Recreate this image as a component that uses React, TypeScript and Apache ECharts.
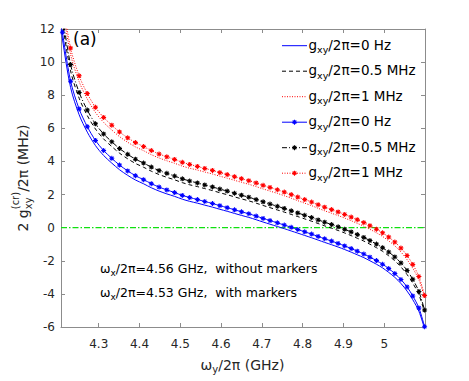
import React, { useEffect, useRef } from 'react';
import * as echarts from 'echarts';

const FONT = '"DejaVu Sans"';
const STAR_D =
  'M-1,-5L1,-5L1,5L-1,5Z M-5,-1L5,-1L5,1L-5,1Z M-2.79,-4.21L4.21,2.79L2.79,4.21L-4.21,-2.79Z M-2.79,4.21L-4.21,2.79L2.79,-4.21L4.21,-2.79Z';
echarts.graphic.registerShape('astar', echarts.graphic.extendPath(STAR_D, {}));

// ω_y/2π (GHz) of the marker points (ω_x/2π = 4.53 GHz)
const omegaYWith = [
  4.211, 4.231, 4.252, 4.272, 4.292, 4.312, 4.332, 4.351, 4.371, 4.39, 4.41, 4.429, 4.448,
  4.467, 4.486, 4.505, 4.523, 4.542, 4.56, 4.579, 4.597, 4.615, 4.633, 4.65, 4.668, 4.686,
  4.703, 4.72, 4.738, 4.755, 4.772, 4.788, 4.805, 4.822, 4.838, 4.854, 4.871, 4.887, 4.903,
  4.919, 4.934, 4.95, 4.965, 4.981, 4.996, 5.011, 5.026, 5.041, 5.056, 5.07, 5.085, 5.099,
];
// ω_y/2π (GHz) of the curves without markers (ω_x/2π = 4.56 GHz)
const omegaYWithout = [
  4.208, 4.211, 4.231, 4.252, 4.272, 4.292, 4.312, 4.332, 4.351, 4.371, 4.39, 4.41, 4.429,
  4.448, 4.467, 4.486, 4.505, 4.523, 4.542, 4.56, 4.579, 4.597, 4.615, 4.633, 4.65, 4.668,
  4.686, 4.703, 4.72, 4.738, 4.755, 4.772, 4.788, 4.805, 4.822, 4.838, 4.854, 4.871, 4.887,
  4.903, 4.919, 4.934, 4.95, 4.965, 4.981, 4.996, 5.011, 5.026, 5.041, 5.056, 5.07, 5.085,
  5.099,
];

// 2 g_xy^(cr)/2π (MHz), without markers
const g0Without = [
  12.3, 11.4, 8.47, 6.82, 5.77, 4.96, 4.36, 3.9, 3.5, 3.16, 2.88, 2.65, 2.41, 2.21, 2.04, 1.89,
  1.72, 1.59, 1.48, 1.36, 1.24, 1.11, 0.99, 0.86, 0.74, 0.62, 0.48, 0.34, 0.21, 0.07, -0.06,
  -0.2, -0.33, -0.47, -0.61, -0.75, -0.89, -1.03, -1.17, -1.32, -1.48, -1.64, -1.81, -2.0,
  -2.21, -2.43, -2.7, -3.0, -3.37, -3.83, -4.35, -5.05, -6.1,
];
const g05Without = [
  13.3, 12.4, 9.47, 7.82, 6.77, 5.96, 5.36, 4.9, 4.5, 4.16, 3.88, 3.65, 3.41, 3.21, 3.04, 2.89,
  2.72, 2.59, 2.48, 2.36, 2.24, 2.11, 1.99, 1.86, 1.74, 1.62, 1.48, 1.34, 1.21, 1.07, 0.94, 0.8,
  0.67, 0.53, 0.39, 0.25, 0.11, -0.03, -0.17, -0.32, -0.48, -0.64, -0.81, -1.0, -1.21, -1.43,
  -1.7, -2.0, -2.37, -2.83, -3.35, -4.05, -5.1,
];
const g1Without = [
  14.3, 13.4, 10.47, 8.82, 7.77, 6.96, 6.36, 5.9, 5.5, 5.16, 4.88, 4.65, 4.41, 4.21, 4.04, 3.89,
  3.72, 3.59, 3.48, 3.36, 3.24, 3.11, 2.99, 2.86, 2.74, 2.62, 2.48, 2.34, 2.21, 2.07, 1.93, 1.78,
  1.63, 1.48, 1.33, 1.17, 1.02, 0.87, 0.73, 0.58, 0.42, 0.26, 0.09, -0.1, -0.31, -0.53, -0.8,
  -1.1, -1.47, -1.93, -2.45, -3.15, -4.2,
];
// with markers
const g0With = [
  11.8, 8.85, 7.17, 6.1, 5.27, 4.66, 4.19, 3.78, 3.43, 3.14, 2.9, 2.66, 2.45, 2.28, 2.12, 1.95,
  1.82, 1.7, 1.58, 1.46, 1.33, 1.21, 1.08, 0.96, 0.84, 0.7, 0.56, 0.43, 0.29, 0.16, 0.02, -0.11,
  -0.25, -0.39, -0.53, -0.67, -0.81, -0.95, -1.1, -1.26, -1.42, -1.59, -1.78, -1.99, -2.21,
  -2.47, -2.77, -3.13, -3.58, -4.12, -4.85, -5.98,
];
const g05With = [
  12.8, 9.85, 8.17, 7.1, 6.27, 5.66, 5.19, 4.78, 4.43, 4.14, 3.9, 3.66, 3.45, 3.28, 3.12, 2.95,
  2.82, 2.7, 2.58, 2.46, 2.33, 2.21, 2.08, 1.96, 1.84, 1.7, 1.56, 1.43, 1.29, 1.16, 1.02, 0.89,
  0.75, 0.61, 0.47, 0.33, 0.19, 0.05, -0.1, -0.26, -0.42, -0.59, -0.78, -0.99, -1.21, -1.47,
  -1.77, -2.13, -2.58, -3.12, -3.85, -4.98,
];
const g1With = [
  13.8, 10.85, 9.17, 8.1, 7.27, 6.66, 6.19, 5.78, 5.43, 5.14, 4.9, 4.66, 4.45, 4.28, 4.12, 3.95,
  3.82, 3.7, 3.58, 3.46, 3.33, 3.21, 3.08, 2.96, 2.84, 2.7, 2.56, 2.43, 2.29, 2.15, 2.0, 1.85,
  1.7, 1.55, 1.39, 1.24, 1.09, 0.95, 0.8, 0.64, 0.48, 0.31, 0.12, -0.09, -0.31, -0.57, -0.87,
  -1.23, -1.68, -2.22, -2.95, -4.1,
];
// reference level (green dash-dot line)
const zeroLevel = 0;

const xTickValues = [4.3, 4.4, 4.5, 4.6, 4.7, 4.8, 4.9, 5.0];
const xTickLabels = ['4.3', '4.4', '4.5', '4.6', '4.7', '4.8', '4.9', '5'];
const X_MIN = 4.2075;
const X_MAX = 5.1;
const Y_MIN = -6;
const Y_MAX = 12;
const Y_STEP = 2;

const legendValues = ['0 Hz', '0.5 MHz', '1 MHz', '0 Hz', '0.5 MHz', '1 MHz'];
const noteLines = [
  { wx: '4.56', tail: ' GHz,  without markers' },
  { wx: '4.53', tail: ' GHz,  with markers' },
];

const AXIS_GRAY = '#8c8c8c';
const TEXT_DARK = '#262626';
const ZERO_GREEN = '#10e010';

const seriesStyles = [
  { color: '#0000ff', dash: 'solid' as any, marker: false, width: 1 },
  { color: '#000000', dash: [4, 3], marker: false, width: 1 },
  { color: '#ff0000', dash: [1, 1.5], marker: false, width: 1 },
  { color: '#0000ff', dash: 'solid' as any, marker: true, width: 1 },
  { color: '#000000', dash: [5, 2, 1, 2], marker: true, width: 1 },
  { color: '#ff0000', dash: [1, 1.5], marker: true, width: 1 },
];

let measureCtx: CanvasRenderingContext2D | null = null;
function measure(t: string, size: number): number {
  if (!measureCtx) measureCtx = document.createElement('canvas').getContext('2d');
  if (!measureCtx) return t.length * size * 0.6;
  measureCtx.font = `${size}px ${FONT}`;
  return measureCtx.measureText(t).width;
}

function txt(t: string, x: number, y: number, s: number, fill: string) {
  return {
    type: 'text',
    x,
    y,
    silent: true,
    style: {
      text: t,
      font: `${s}px ${FONT}`,
      fill,
      align: 'left',
      textAlign: 'left',
      verticalAlign: 'middle',
      textVerticalAlign: 'middle',
    },
  };
}

type Part = { t: string; s: number; dy?: number; sup?: { t: string; s: number; dy: number } };
function composite(parts: Part[], x0: number, y0: number, fill: string, align: 'left' | 'center') {
  const ws = parts.map((p) => Math.max(measure(p.t, p.s), p.sup ? measure(p.sup.t, p.sup.s) : 0));
  const total = ws.reduce((a, b) => a + b, 0);
  let x = align === 'center' ? x0 - total / 2 : x0;
  const out: any[] = [];
  parts.forEach((p, i) => {
    out.push(txt(p.t, x, y0 + (p.dy || 0), p.s, fill));
    if (p.sup) out.push(txt(p.sup.t, x, y0 + p.sup.dy, p.sup.s, fill));
    x += ws[i];
  });
  return out;
}

const pairs = (xs: number[], ys: number[]) => xs.map((x, i) => [x, ys[i]]);

export default function App() {
  const ref = useRef<HTMLDivElement>(null);
  useEffect(() => {
    if (!ref.current) return;
    const chart = echarts.init(ref.current, null, { renderer: 'svg' });
    const dataSets = [
      pairs(omegaYWithout, g0Without),
      pairs(omegaYWithout, g05Without),
      pairs(omegaYWithout, g1Without),
      pairs(omegaYWith, g0With),
      pairs(omegaYWith, g05With),
      pairs(omegaYWith, g1With),
    ];
    const series: any[] = [
      {
        type: 'line',
        name: 'zero',
        data: [
          [X_MIN, zeroLevel],
          [X_MAX, zeroLevel],
        ],
        symbol: 'none',
        showSymbol: false,
        clip: true,
        lineStyle: { color: ZERO_GREEN, width: 1.2, type: [6, 2, 1.5, 2], opacity: 1 },
        itemStyle: { color: ZERO_GREEN },
        z: 2,
      },
    ];
    dataSets.forEach((data, i) => {
      const st = seriesStyles[i];
      const s: any = {
        type: 'line',
        name: `g${i}`,
        data,
        clip: true,
        smooth: 0.3,
        lineStyle: { color: st.color, width: st.width, type: st.dash },
        itemStyle: { color: st.color },
        z: 3 + i,
      };
      if (st.marker) {
        s.symbol = 'path://' + STAR_D;
        s.symbolSize = 5;
        s.showSymbol = true;
        s.showAllSymbol = true;
      } else {
        s.symbol = 'none';
        s.showSymbol = false;
      }
      series.push(s);
    });

    // legend drawn by hand (MATLAB style, no box)
    const legendEls: any[] = [];
    legendValues.forEach((v, i) => {
      const y = 45.7 + 25.5 * i;
      const st = seriesStyles[i];
      legendEls.push({
        type: 'line',
        silent: true,
        shape: { x1: 282, y1: y, x2: 307, y2: y },
        style: {
          stroke: st.color,
          lineWidth: 1,
          lineDash: Array.isArray(st.dash) ? st.dash : null,
        },
      });
      if (st.marker) {
        legendEls.push({
          type: 'astar',
          x: 294.5,
          y,
          scaleX: 0.5,
          scaleY: 0.5,
          silent: true,
          style: { fill: st.color },
        });
      }
      legendEls.push(
        ...composite(
          [
            { t: 'g', s: 13.5 },
            { t: 'xy', s: 9.5, dy: 5 },
            { t: '/2π=' + v, s: 13.5 },
          ],
          308.5,
          y - 1,
          '#000',
          'left'
        )
      );
    });

    const noteEls: any[] = [];
    noteLines.forEach((n, i) => {
      noteEls.push(
        ...composite(
          [
            { t: 'ω', s: 12.5 },
            { t: 'x', s: 9, dy: 4.5 },
            { t: '/2π=' + n.wx + n.tail, s: 12.5 },
          ],
          100,
          268 + 24.5 * i,
          '#000',
          'left'
        )
      );
    });

    const xTitle = composite(
      [
        { t: 'ω', s: 14 },
        { t: 'y', s: 10, dy: 5 },
        { t: '/2π (GHz)', s: 14 },
      ],
      242.5,
      364.5,
      TEXT_DARK,
      'center'
    );
    const yTitle = {
      type: 'group',
      x: 23,
      y: 178,
      rotation: Math.PI / 2,
      children: composite(
        [
          { t: '2 g', s: 14 },
          { t: 'xy', s: 10, dy: 5, sup: { t: '(cr)', s: 10, dy: -8 } },
          { t: '/2π (MHz)', s: 14 },
        ],
        0,
        0,
        TEXT_DARK,
        'center'
      ),
    };

    const axisCommon = {
      type: 'value',
      splitLine: { show: false },
      axisLine: { show: true, onZero: false, lineStyle: { color: AXIS_GRAY, width: 1 } },
    };

    chart.setOption({
      animation: false,
      backgroundColor: '#ffffff',
      grid: { left: 61, top: 29, width: 364, height: 298, containLabel: false },
      xAxis: [
        {
          ...axisCommon,
          position: 'bottom',
          min: X_MIN,
          max: X_MAX,
          axisTick: {
            show: true,
            inside: true,
            length: 4,
            customValues: xTickValues,
            lineStyle: { color: AXIS_GRAY },
          },
          axisLabel: {
            show: true,
            customValues: xTickValues,
            margin: 11,
            color: TEXT_DARK,
            fontSize: 12,
            fontFamily: FONT,
            formatter: (v: number) => {
              let best = 0;
              xTickValues.forEach((t, i) => {
                if (Math.abs(t - v) < Math.abs(xTickValues[best] - v)) best = i;
              });
              return xTickLabels[best];
            },
          },
        },
        {
          ...axisCommon,
          position: 'top',
          min: X_MIN,
          max: X_MAX,
          axisTick: {
            show: true,
            inside: true,
            length: 4,
            customValues: xTickValues,
            lineStyle: { color: AXIS_GRAY },
          },
          axisLabel: { show: false },
        },
      ],
      yAxis: [
        {
          ...axisCommon,
          position: 'left',
          min: Y_MIN,
          max: Y_MAX,
          interval: Y_STEP,
          axisTick: { show: true, inside: true, length: 4, lineStyle: { color: AXIS_GRAY } },
          axisLabel: { show: true, margin: 6, color: TEXT_DARK, fontSize: 12, fontFamily: FONT },
        },
        {
          ...axisCommon,
          position: 'right',
          min: Y_MIN,
          max: Y_MAX,
          interval: Y_STEP,
          axisTick: { show: true, inside: true, length: 4, lineStyle: { color: AXIS_GRAY } },
          axisLabel: { show: false },
        },
      ],
      series,
      graphic: [
        ...legendEls,
        ...noteEls,
        ...xTitle,
        yTitle,
        txt('(a)', 73, 39, 17, '#000'),
      ],
    });
    return () => chart.dispose();
  }, []);
  return (
    <div
      ref={ref}
      style={{ position: 'absolute', left: 0, top: 0, width: 469, height: 381, background: '#fff' }}
    />
  );
}
